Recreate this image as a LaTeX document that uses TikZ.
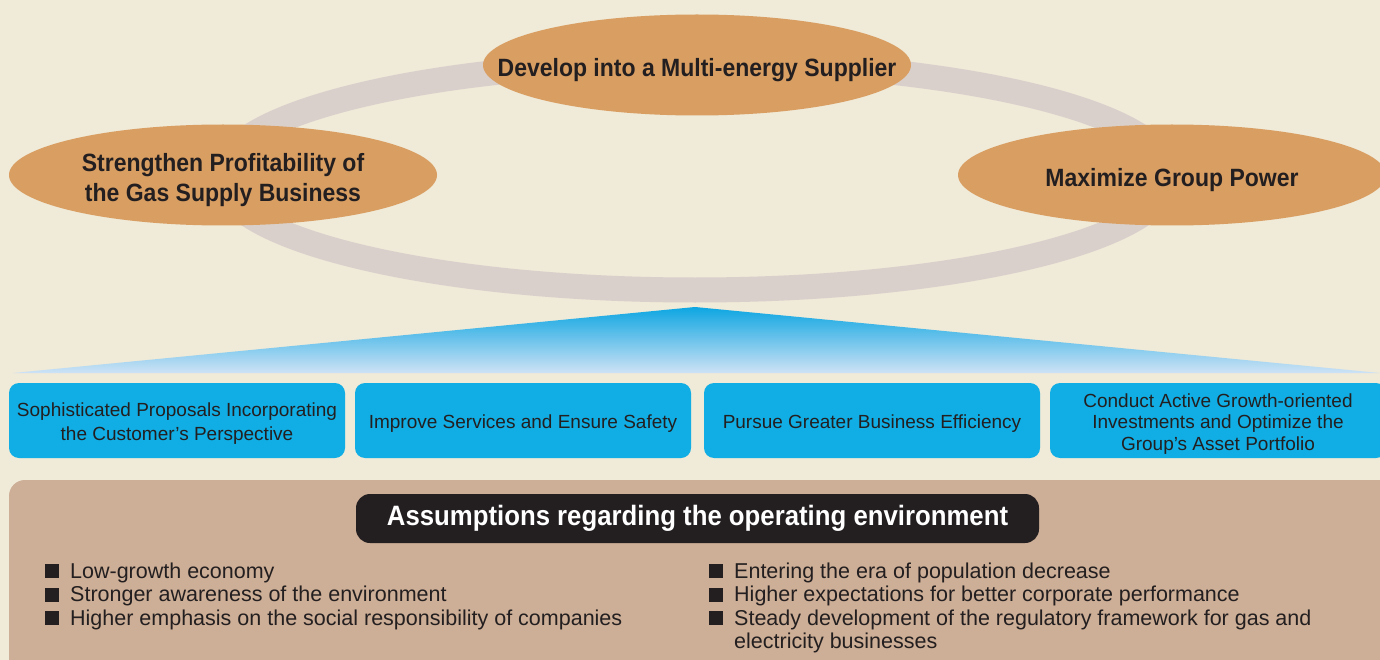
\documentclass[tikz,border=0pt]{standalone}
\usepackage{fontspec}
\setmainfont{Liberation Sans}
\newfontfamily\headfont{Liberation Sans}[FakeStretch=0.92]
\usetikzlibrary{shapes.geometric}

\definecolor{cream}{RGB}{240,234,216}
\definecolor{goalorange}{RGB}{217,158,98}
\definecolor{ringgray}{RGB}{217,208,204}
\definecolor{boxblue}{RGB}{16,174,228}
\definecolor{triblue}{RGB}{14,166,226}
\definecolor{trilight}{RGB}{206,226,245}
\definecolor{panel}{RGB}{205,174,150}
\definecolor{ink}{RGB}{35,31,32}

\newcommand{\sqbullet}{\rule{14pt}{14pt}\hspace{11pt}}
% invisible struts that lower the first line inside goal and measure nodes
\newcommand{\goalstrut}{\rule{0pt}{28.5pt}}
\newcommand{\boxstrut}{\rule{0pt}{20pt}}

\begin{document}
\begin{tikzpicture}[x=1pt,y=-1pt,
  goal/.style={ellipse, fill=goalorange, minimum width=428, minimum height=101,
    inner xsep=-80pt, inner ysep=-16pt, text=ink, align=center,
    font=\headfont\bfseries\fontsize{25}{30}\selectfont},
  ring/.style={draw=ringgray, line width=25pt},
  measure/.style={rectangle, rounded corners=10pt, fill=boxblue, text=ink,
    minimum width=336, minimum height=75, inner sep=0pt, align=center,
    font=\fontsize{19}{23.5}\selectfont},
  envtitle/.style={rectangle, rounded corners=14pt, fill=ink, text=white,
    minimum width=683, minimum height=49, inner sep=0pt,
    font=\headfont\bfseries\fontsize{28}{32}\selectfont},
  item/.style={anchor=base west, inner sep=0pt, text=ink,
    font=\fontsize{21.5}{24}\selectfont}]

\useasboundingbox (0,0) rectangle (1380,660);
\fill[cream] (0,0) rectangle (1380,660);

% cycle of the three goals
\draw[ring] (695,176) ellipse [x radius=475, y radius=114];
\node[goal] (multi) at (697,65) {\goalstrut Develop into a Multi-energy Supplier};
\node[goal] (gas) at (223,175) {\goalstrut Strengthen Profitability of\\the Gas Supply Business};
\node[goal] (group) at (1172,175) {\goalstrut Maximize Group Power};

% supporting wedge
\coordinate (apex) at (695,307);
\coordinate (baseL) at (13,373);
\coordinate (baseR) at (1380,373);
\shade[top color=triblue, bottom color=trilight] (baseL) -- (apex) -- (baseR) -- cycle;

% four measures
\node[measure] (m1) at (177,420.5) {\boxstrut Sophisticated Proposals Incorporating\\the Customer's Perspective};
\node[measure] (m2) at (523,420.5) {\boxstrut Improve Services and Ensure Safety};
\node[measure] (m3) at (872,420.5) {\boxstrut Pursue Greater Business Efficiency};
\node[measure, font=\fontsize{19}{21.5}\selectfont] (m4) at (1218,420.5) {\boxstrut Conduct Active Growth-oriented\\Investments and Optimize the\\Group's Asset Portfolio};

% operating environment panel
\fill[panel, rounded corners=16pt] (9,690) -- (9,480) -- (1400,480) -- (1400,690);
\node[envtitle] (env) at (697.5,518.5) {Assumptions regarding the operating environment};

\node[item] (a1) at (45,578) {\sqbullet Low-growth economy};
\node[item] (a2) at (45,601.5) {\sqbullet Stronger awareness of the environment};
\node[item] (a3) at (45,625) {\sqbullet Higher emphasis on the social responsibility of companies};

\node[item] (b1) at (709,578) {\sqbullet Entering the era of population decrease};
\node[item] (b2) at (709,601.5) {\sqbullet Higher expectations for better corporate performance};
\node[item] (b3) at (709,625) {\sqbullet Steady development of the regulatory framework for gas and};
\node[item] (b4) at (734,648.5) {electricity businesses};
\end{tikzpicture}
\end{document}
